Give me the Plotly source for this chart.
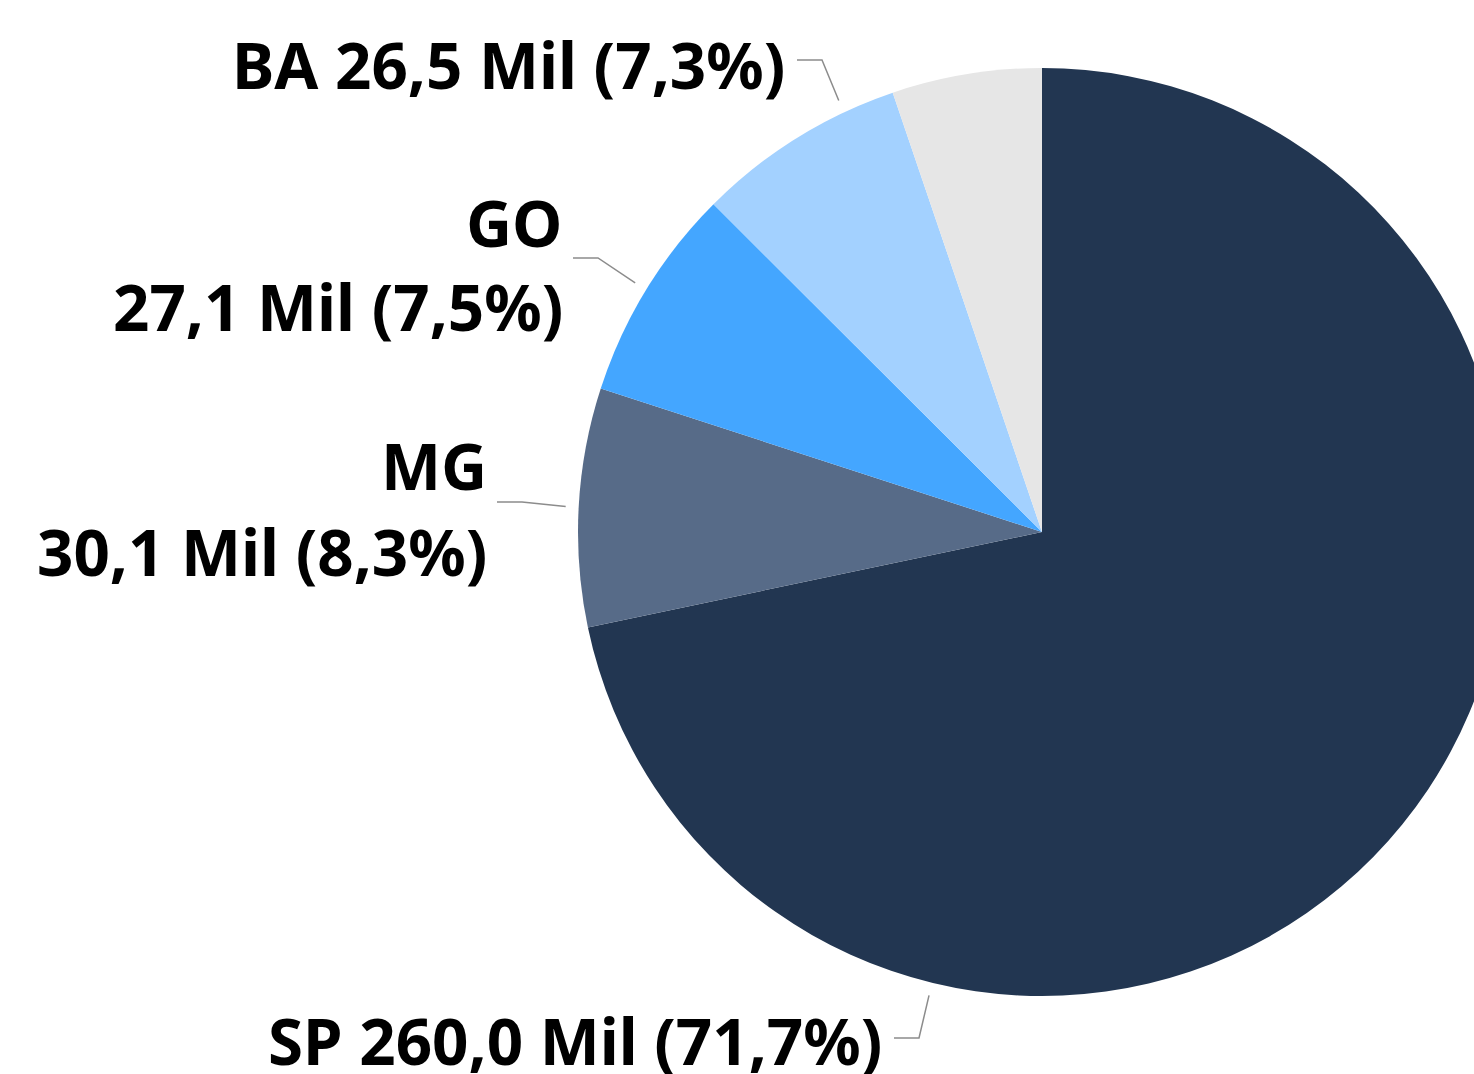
import math
import plotly.graph_objects as go

# ---- data ----
states = ["SP", "MG", "GO", "BA", "Outros"]
values = [260.0, 30.1, 27.1, 26.5, 18.9]   # Mil
colors = ["#223651", "#576B88", "#44A6FF", "#A3D1FF", "#E6E6E6"]

# ---- layout (pixels) ----
W, H = 1600, 1074
CX, CY, R = 1042, 532, 464

def px(x):
    return x / W

def py(y):
    return 1 - y / H

total = sum(values)

def fmt(v):
    return f"{v:.1f}".replace(".", ",")

def pct(v):
    return f"{100 * v / total:.1f}".replace(".", ",") + "%"

fig = go.Figure(go.Pie(
    labels=states,
    values=values,
    sort=False,
    direction="clockwise",
    rotation=0,
    marker=dict(colors=colors, line=dict(width=0)),
    textinfo="none",
    hoverinfo="label+value+percent",
    showlegend=False,
    domain=dict(x=[px(CX - R), px(CX + R)], y=[py(CY + R), py(CY - R)]),
))

FONT = dict(family="Noto Sans, Segoe UI, sans-serif", size=63.7, color="#000000")
LINE = dict(color="#8C8C8C", width=1.5)

idx = {s: i for i, s in enumerate(states)}
cum = []
acc = 0
for v in values:
    cum.append((acc / total * 360, (acc + v) / total * 360))
    acc += v

def mid(s):
    a, b = cum[idx[s]]
    return (a + b) / 2

labels_cfg = [
    ("BA", [(f"BA {fmt(values[idx['BA']])} Mil ({pct(values[idx['BA']])})", 787, 64)], 797, 60, mid("BA") + 6.7),
    ("GO", [("GO", 565, 222), (f"{fmt(values[idx['GO']])} Mil ({pct(values[idx['GO']])})", 565, 307)], 573, 258, mid("GO")),
    ("MG", [("MG", 489, 466), (f"{fmt(values[idx['MG']])} Mil ({pct(values[idx['MG']])})", 489, 551)], 497, 502, mid("MG")),
    ("SP", [(f"SP {fmt(values[idx['SP']])} Mil ({pct(values[idx['SP']])})", 884, 1040)], 894, 1038, 193.7),
]

for s, lines, ex, ey, ang in labels_cfg:
    for text, rx, cy in lines:
        fig.add_annotation(
            x=px(rx), y=py(cy), xref="paper", yref="paper",
            text=f"<b>{text}</b>", showarrow=False,
            xanchor="right", yanchor="middle", font=FONT,
        )
    t = math.radians(ang)
    tx = CX + (R + 13) * math.sin(t)
    ty = CY - (R + 13) * math.cos(t)
    path = f"M {px(ex)} {py(ey)} L {px(ex + 25)} {py(ey)} L {px(tx)} {py(ty)}"
    fig.add_shape(type="path", path=path, xref="paper", yref="paper", line=LINE)

fig.update_layout(
    width=W, height=H,
    margin=dict(l=0, r=0, t=0, b=0),
    paper_bgcolor="#FFFFFF",
    plot_bgcolor="#FFFFFF",
)

fig.write_html(
    "out.html",
    post_script="document.body.style.margin='0';document.body.style.overflow='hidden';",
)
